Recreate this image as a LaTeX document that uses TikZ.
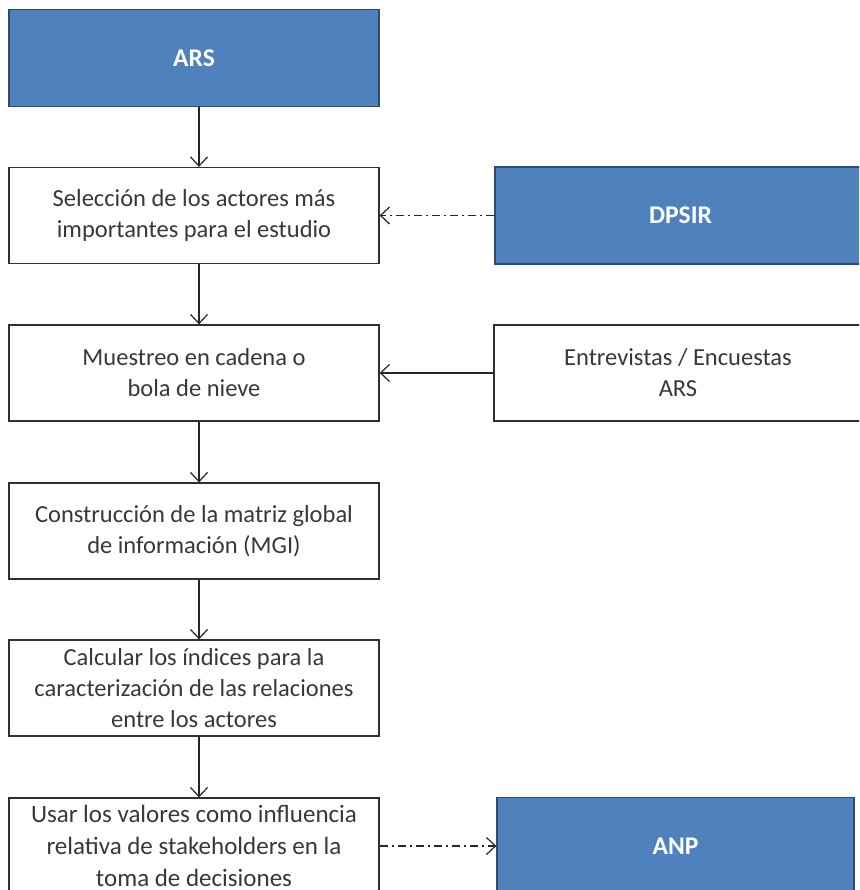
\documentclass[tikz,border=0pt]{standalone}
\usepackage{fontspec}
\setmainfont{Carlito}
\usetikzlibrary{arrows.meta}
\definecolor{boxblue}{HTML}{4F81BD}
\definecolor{boxblueline}{HTML}{2F4A6E}
\definecolor{boxline}{HTML}{303030}
\begin{document}
\begin{tikzpicture}[x=1pt,y=-1pt,
  stepbox/.style={draw=boxline, line width=1.3pt, fill=white, text=black!78,
    minimum width=370pt, minimum height=96pt, align=center, inner sep=0pt,
    font=\fontsize{24.5}{31}\selectfont},
  bluebox/.style={draw=boxblueline, line width=1.3pt, fill=boxblue, text=white,
    minimum height=97pt, inner sep=0pt, font=\fontsize{25.5}{30}\selectfont\bfseries},
  flow/.style={draw=black!85, line width=1.2pt,
    -{Straight Barb[length=9pt,width=17pt,line width=1.2pt]}},
  dashdot/.style={flow, dash pattern=on 8pt off 4pt on 2pt off 4pt}
]
\clip (0,0) rectangle (859,890);
\fill[white] (0,0) rectangle (859,890);

% left column
\node[bluebox, minimum width=370pt] (ars) at (194,58) {ARS};
\node[stepbox] (sel) at (194,215.5) {Selección de los actores más\\importantes para el estudio};
\node[stepbox] (mue) at (194,373) {Muestreo en cadena o\\bola de nieve};
\node[stepbox] (mgi) at (194,531) {Construcción de la matriz global\\de información (MGI)};
\node[stepbox] (cal) at (194,688) {Calcular los índices para la\\caracterización de las relaciones\\entre los actores};
\node[stepbox, font=\fontsize{25}{32}\selectfont] (usa) at (194,846) {Usar los valores como influencia\\relativa de stakeholders en la\\toma de decisiones};

% right column
\node[bluebox, minimum width=371pt] (dps) at (680.5,215.5) {DPSIR};
\node[stepbox, minimum width=368pt] (ent) at (678,373) {Entrevistas / Encuestas\\ARS};
\node[bluebox, minimum width=357pt] (anp) at (675.5,846) {ANP};

% main sequence
\draw[flow] ([xshift=5pt]ars.south) -- ([xshift=5pt]sel.north);
\draw[flow] ([xshift=5pt]sel.south) -- ([xshift=5pt]mue.north);
\draw[flow] ([xshift=5pt]mue.south) -- ([xshift=5pt]mgi.north);
\draw[flow] ([xshift=5pt]mgi.south) -- ([xshift=5pt]cal.north);
\draw[flow] ([xshift=5pt]cal.south) -- ([xshift=5pt]usa.north);

% side inputs and output
\draw[dashdot] (dps.west) -- (sel.east);
\draw[flow] (ent.west) -- (mue.east);
\draw[dashdot] (usa.east) -- (anp.west);
\end{tikzpicture}
\end{document}
